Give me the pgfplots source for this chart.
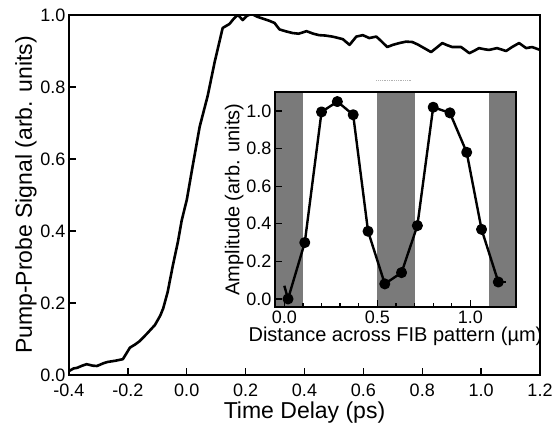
\documentclass[border=0pt]{standalone}
\usepackage{fontspec}
\setmainfont{Liberation Sans}
\usepackage{pgfplots}
\pgfplotsset{compat=1.18}
\begin{document}
\begin{tikzpicture}
\useasboundingbox (-69bp,-58bp) rectangle (488bp,375bp);
\begin{axis}[
  at={(0bp,0bp)}, anchor=south west, scale only axis,
  width=471bp, height=360bp,
  xmin=-0.4, xmax=1.2, ymin=0, ymax=1.0,
  xtick={-0.4,-0.2,0,0.2,0.4,0.6,0.8,1.0,1.2},
  ytick={0,0.2,0.4,0.6,0.8,1.0},
  xtick pos=bottom, ytick pos=left,
  tick align=inside, major tick length=7bp,
  tick style={line width=1.4bp, black},
  axis line style={line width=1.8bp},
  /pgf/number format/.cd, fixed, fixed zerofill, precision=1, assume math mode=true,
  /pgfplots/.cd,
  tick label style={font=\fontsize{18bp}{20bp}\selectfont},
  xticklabel style={yshift=-5bp},
  label style={font=\fontsize{23bp}{26bp}\selectfont},
  xlabel={Time Delay (ps)}, ylabel={Pump-Probe Signal (arb. units)},
  xlabel style={yshift=1bp}, ylabel style={yshift=-3bp},
]
\addplot[black, line width=2.6bp, line join=round] coordinates {
(-0.400,0.011) (-0.385,0.018) (-0.372,0.020) (-0.355,0.026) (-0.340,0.030) (-0.320,0.026)
(-0.305,0.025) (-0.285,0.032) (-0.270,0.036) (-0.240,0.040) (-0.217,0.044) (-0.205,0.060)
(-0.193,0.076) (-0.175,0.085) (-0.160,0.094) (-0.135,0.115) (-0.108,0.139) (-0.090,0.165)
(-0.080,0.185) (-0.065,0.230) (-0.047,0.305) (-0.030,0.370) (-0.017,0.430) (0.000,0.486)
(0.020,0.580) (0.044,0.690) (0.071,0.775) (0.095,0.870) (0.122,0.964) (0.145,0.975)
(0.160,0.990) (0.173,1.000) (0.180,0.995) (0.190,0.986) (0.205,0.998) (0.220,1.003)
(0.240,0.995) (0.258,0.990) (0.280,0.984) (0.298,0.978) (0.315,0.960) (0.335,0.955)
(0.359,0.950) (0.380,0.948) (0.407,0.955) (0.430,0.948) (0.450,0.944) (0.470,0.943)
(0.495,0.940) (0.530,0.933) (0.553,0.917) (0.576,0.940) (0.598,0.944) (0.620,0.936)
(0.644,0.940) (0.660,0.928) (0.681,0.911) (0.700,0.917) (0.722,0.922) (0.745,0.926)
(0.766,0.925) (0.785,0.918) (0.800,0.911) (0.830,0.897) (0.850,0.910) (0.868,0.922)
(0.885,0.916) (0.902,0.911) (0.932,0.911) (0.960,0.894) (0.975,0.900) (0.993,0.908)
(1.010,0.905) (1.027,0.903) (1.054,0.908) (1.085,0.900) (1.105,0.911) (1.129,0.922)
(1.153,0.908) (1.173,0.911) (1.190,0.906) (1.200,0.903)
};
\addplot[gray!60, densely dotted, line width=0.8bp] coordinates {(0.644,0.819) (0.766,0.819)};
\end{axis}
\begin{axis}[
  at={(206bp,68bp)}, anchor=south west, scale only axis,
  width=241bp, height=215bp,
  xmin=-0.05, xmax=1.245, ymin=-0.043, ymax=1.101,
  axis on top, axis background/.style={fill=white},
  xtick={0,0.5,1.0}, minor x tick num=4,
  ytick={0,0.2,0.4,0.6,0.8,1.0},
  xtick pos=bottom, ytick pos=left,
  tick align=inside, major tick length=7bp, minor tick length=4bp,
  tick style={line width=1.3bp, black},
  axis line style={line width=1.6bp},
  /pgf/number format/.cd, fixed, fixed zerofill, precision=1, assume math mode=true,
  /pgfplots/.cd,
  tick label style={font=\fontsize{18bp}{20bp}\selectfont},
  label style={font=\fontsize{20bp}{22bp}\selectfont},
  xlabel={Distance across FIB pattern (µm)}, ylabel={Amplitude (arb. units)},
  xlabel style={yshift=3bp}, ylabel style={yshift=-4bp},
]
\addplot[fill=black!52, draw=none] coordinates {(-0.05,-0.043) (0.1,-0.043) (0.1,1.101) (-0.05,1.101)} --cycle;
\addplot[fill=black!52, draw=none] coordinates {(0.5,-0.043) (0.7,-0.043) (0.7,1.101) (0.5,1.101)} --cycle;
\addplot[fill=black!52, draw=none] coordinates {(1.1,-0.043) (1.245,-0.043) (1.245,1.101) (1.1,1.101)} --cycle;
\addplot[black, line width=2.4bp, line join=round] coordinates {(0.0,0.07) (0.02,0.0)};
\addplot[black, line width=2.4bp, line join=round] coordinates {(1.15,0.09) (1.19,0.09)};
\addplot[black, line width=2.4bp, line join=round, mark=*, mark size=4.3bp, mark options={solid}] coordinates {
(0.02,0.00) (0.11,0.30) (0.20,0.995) (0.285,1.05) (0.37,0.98) (0.45,0.36) (0.54,0.08)
(0.63,0.14) (0.715,0.39) (0.80,1.02) (0.89,0.99) (0.98,0.78) (1.06,0.37) (1.15,0.09)
};
\end{axis}
\end{tikzpicture}
\end{document}
